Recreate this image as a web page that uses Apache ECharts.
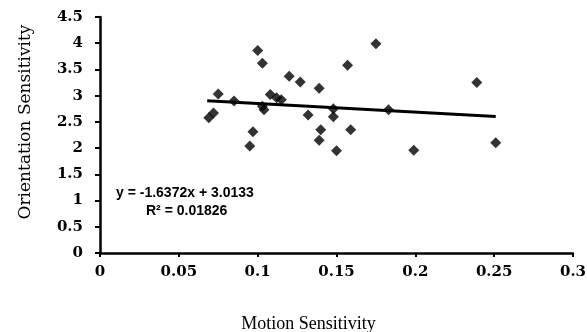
<!DOCTYPE html>
<html>
<head>
<meta charset="utf-8">
<script src="https://cdn.jsdelivr.net/npm/echarts@6/dist/echarts.min.js"></script>
<style>
  html, body { margin: 0; padding: 0; background: #fff; }
  #chart { width: 587px; height: 332px; }
</style>
</head>
<body>
<div id="chart"></div>
<script>
// motion sensitivity (x) vs orientation sensitivity (y)
const motion = [0.069, 0.072, 0.075, 0.085, 0.095, 0.097, 0.100, 0.103, 0.103, 0.104,
  0.108, 0.112, 0.115, 0.120, 0.127, 0.132, 0.139, 0.139, 0.140, 0.148,
  0.148, 0.150, 0.157, 0.159, 0.175, 0.183, 0.199, 0.239, 0.251];
const orientation = [2.58, 2.67, 3.03, 2.90, 2.04, 2.31, 3.86, 3.62, 2.80, 2.73,
  3.02, 2.96, 2.92, 3.37, 3.26, 2.63, 3.14, 2.15, 2.35, 2.75,
  2.60, 1.95, 3.58, 2.35, 3.99, 2.73, 1.96, 3.25, 2.10];

// linear trendline end points
const trendX = [0.068, 0.251];
const trendY = [2.902, 2.602];

const equationText = 'y = -1.6372x + 3.0133';
const r2Text = 'R² = 0.01826';

const points = motion.map((m, i) => [m, orientation[i]]);
const trend = trendX.map((x, i) => [x, trendY[i]]);

const chart = echarts.init(document.getElementById('chart'));

const tickFont = {
  color: '#000',
  fontFamily: 'DejaVu Serif',
  fontWeight: 'bold',
  fontSize: 15
};

chart.setOption({
  animation: false,
  grid: { left: 100, right: 14, top: 17, bottom: 79, outerBoundsMode: 'none', containLabel: false },
  xAxis: {
    type: 'value',
    min: 0,
    max: 0.3,
    interval: 0.05,
    name: 'Motion Sensitivity',
    nameLocation: 'middle',
    nameGap: 62,
    nameTextStyle: {
      color: '#000',
      fontFamily: 'Liberation Serif',
      fontSize: 18,
      padding: [0, 56, 0, 0]
    },
    axisLine: { lineStyle: { color: '#000', width: 2.5 } },
    axisTick: { show: true, length: 4, lineStyle: { color: '#000', width: 2 } },
    axisLabel: Object.assign({ margin: 12 }, tickFont),
    splitLine: { show: false }
  },
  yAxis: {
    type: 'value',
    min: 0,
    max: 4.5,
    interval: 0.5,
    name: 'Orientation Sensitivity',
    nameLocation: 'middle',
    nameGap: 66,
    nameTextStyle: {
      color: '#000',
      fontFamily: 'DejaVu Serif',
      fontSize: 17,
      padding: [0, 0, 0, 26]
    },
    axisLine: { show: true, lineStyle: { color: '#000', width: 2.5 } },
    axisTick: { show: true, length: 5, lineStyle: { color: '#000', width: 2 } },
    axisLabel: Object.assign({ margin: 17 }, tickFont),
    splitLine: { show: false }
  },
  series: [
    {
      type: 'scatter',
      data: points,
      symbol: 'diamond',
      symbolSize: 11,
      itemStyle: { color: '#000' }
    },
    {
      type: 'line',
      data: trend,
      symbol: 'none',
      lineStyle: { color: '#000', width: 3 },
      z: 3
    }
  ],
  graphic: [
    {
      type: 'text',
      left: 116,
      top: 186,
      style: {
        text: equationText,
        fill: '#000',
        font: 'bold 14px "Liberation Sans", sans-serif'
      }
    },
    {
      type: 'text',
      left: 146,
      top: 204,
      style: {
        text: r2Text,
        fill: '#000',
        font: 'bold 14px "Liberation Sans", sans-serif'
      }
    }
  ]
});
</script>
</body>
</html>
